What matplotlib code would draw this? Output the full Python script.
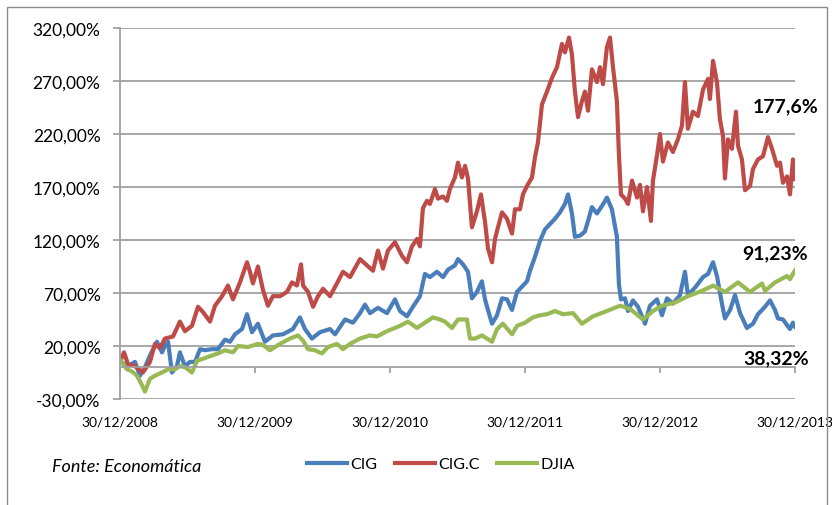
import matplotlib
matplotlib.use("Agg")
import matplotlib.pyplot as plt
from matplotlib.patches import Rectangle

plt.rcParams['font.family'] = ['Lato', 'DejaVu Sans']

# years since 30/12/2008
cigc_x = [0.007, 0.030, 0.059, 0.111, 0.170, 0.222, 0.259, 0.296, 0.333, 0.393, 0.444, 0.481, 0.533, 0.578,
          0.615, 0.667, 0.704, 0.756, 0.800, 0.837, 0.889, 0.941, 0.963, 0.985, 1.022, 1.059, 1.096, 1.133,
          1.185, 1.237, 1.274, 1.311, 1.341, 1.356, 1.393, 1.430, 1.467, 1.504, 1.556, 1.607, 1.652, 1.704,
          1.778, 1.830, 1.874, 1.911, 1.948, 1.985, 2.037, 2.089, 2.126, 2.163, 2.200, 2.222, 2.244, 2.274,
          2.296, 2.333, 2.356, 2.393, 2.422, 2.444, 2.481, 2.504, 2.533, 2.556, 2.578, 2.607, 2.644, 2.674,
          2.704, 2.726, 2.756, 2.778, 2.800, 2.830, 2.867, 2.904, 2.926, 2.963, 2.985, 3.015, 3.052, 3.074,
          3.096, 3.126, 3.163, 3.200, 3.237, 3.274, 3.296, 3.326, 3.348, 3.370, 3.393, 3.422, 3.444, 3.467,
          3.496, 3.533, 3.556, 3.578, 3.607, 3.630, 3.652, 3.681, 3.696, 3.711, 3.741, 3.763, 3.793, 3.830,
          3.852, 3.874, 3.904, 3.933, 3.948, 3.978, 4.000, 4.022, 4.059, 4.096, 4.133, 4.163, 4.185, 4.207,
          4.244, 4.281, 4.319, 4.356, 4.370, 4.393, 4.422, 4.444, 4.467, 4.481, 4.504, 4.533, 4.563, 4.578,
          4.607, 4.630, 4.667, 4.689, 4.726, 4.763, 4.800, 4.830, 4.867, 4.889, 4.911, 4.941, 4.963, 4.985,
          5.000]
cigc_y = [7, 14, 3, 1, -5, 5, 22, 18, 27, 29, 43, 34, 39, 57,
          52, 43, 58, 67, 77, 64, 80, 99, 90, 79, 95, 73, 58, 67,
          67, 71, 80, 77, 97, 77, 71, 57, 67, 74, 67, 79, 90, 85,
          102, 96, 91, 110, 93, 110, 118, 105, 99, 114, 121, 114, 150, 157,
          154, 168, 159, 161, 157, 168, 179, 193, 179, 190, 178, 132, 147, 163,
          137, 112, 99, 121, 132, 146, 140, 126, 149, 149, 163, 171, 179, 198,
          212, 248, 260, 273, 283, 305, 297, 311, 295, 260, 236, 251, 260, 242,
          281, 269, 283, 267, 302, 311, 283, 251, 200, 163, 159, 154, 176, 160,
          172, 147, 170, 138, 176, 200, 220, 194, 212, 203, 215, 228, 269, 225,
          241, 237, 262, 272, 253, 289, 269, 234, 218, 178, 215, 206, 241, 209,
          196, 167, 171, 187, 196, 199, 217, 206, 190, 193, 174, 180, 163, 196,
          177.6]

cig_x = [0.007, 0.059, 0.111, 0.148, 0.185, 0.222, 0.274, 0.311, 0.333, 0.356, 0.385, 0.422, 0.444, 0.481,
         0.519, 0.556, 0.593, 0.630, 0.681, 0.726, 0.778, 0.815, 0.852, 0.904, 0.941, 0.978, 1.022, 1.074,
         1.133, 1.207, 1.281, 1.333, 1.370, 1.422, 1.481, 1.556, 1.593, 1.667, 1.726, 1.778, 1.815, 1.852,
         1.911, 1.978, 2.037, 2.074, 2.126, 2.170, 2.222, 2.259, 2.296, 2.348, 2.393, 2.430, 2.481, 2.504,
         2.541, 2.578, 2.607, 2.644, 2.681, 2.704, 2.726, 2.756, 2.793, 2.830, 2.867, 2.904, 2.941, 2.978,
         3.015, 3.037, 3.074, 3.111, 3.148, 3.185, 3.222, 3.259, 3.296, 3.319, 3.348, 3.370, 3.407, 3.444,
         3.467, 3.496, 3.533, 3.570, 3.607, 3.644, 3.681, 3.696, 3.711, 3.741, 3.763, 3.800, 3.837, 3.889,
         3.926, 3.978, 4.015, 4.052, 4.096, 4.148, 4.185, 4.207, 4.259, 4.319, 4.356, 4.393, 4.422, 4.459,
         4.481, 4.519, 4.556, 4.593, 4.644, 4.689, 4.726, 4.778, 4.815, 4.852, 4.874, 4.911, 4.963, 4.985,
         5.000]
cig_y = [5, 1, 5, -8, 0, 11, 24, 14, 20, 24, -5, 1, 14, 1,
         5, 5, 17, 16, 17, 17, 26, 24, 31, 36, 50, 33, 41, 24,
         30, 31, 36, 47, 36, 27, 33, 36, 31, 45, 42, 51, 59, 51,
         56, 51, 64, 53, 48, 57, 67, 88, 85, 90, 85, 92, 96, 102,
         97, 90, 65, 71, 81, 64, 54, 41, 49, 65, 64, 54, 71, 76,
         81, 91, 104, 119, 130, 135, 140, 146, 154, 163, 145, 123, 124, 128,
         138, 151, 145, 152, 160, 149, 123, 78, 64, 65, 53, 63, 57, 41,
         58, 64, 49, 65, 60, 68, 90, 68, 75, 85, 88, 99, 86, 60,
         46, 54, 68, 51, 37, 41, 50, 57, 63, 54, 46, 45, 36, 42,
         38.32]

djia_x = [0.007, 0.052, 0.089, 0.126, 0.163, 0.185, 0.222, 0.259, 0.311, 0.356, 0.407, 0.444, 0.481, 0.533,
          0.570, 0.615, 0.681, 0.726, 0.778, 0.837, 0.874, 0.948, 1.022, 1.059, 1.111, 1.185, 1.259, 1.319,
          1.356, 1.393, 1.444, 1.496, 1.541, 1.607, 1.652, 1.704, 1.778, 1.852, 1.904, 1.978, 2.037, 2.074,
          2.133, 2.200, 2.259, 2.319, 2.370, 2.407, 2.459, 2.504, 2.570, 2.593, 2.630, 2.681, 2.719, 2.756,
          2.793, 2.837, 2.904, 2.941, 3.000, 3.059, 3.111, 3.163, 3.222, 3.281, 3.356, 3.422, 3.504, 3.607,
          3.704, 3.778, 3.874, 3.948, 4.015, 4.111, 4.207, 4.311, 4.393, 4.481, 4.578, 4.667, 4.756, 4.778,
          4.852, 4.941, 4.963, 5.000]
djia_y = [6, -2, -4, -8, -17, -23, -11, -8, -5, -2, -2, 1, 0, -5,
          6, 8, 11, 13, 16, 14, 20, 19, 22, 21, 16, 22, 27, 30,
          25, 17, 16, 13, 19, 22, 17, 22, 27, 30, 29, 34, 37, 39,
          43, 37, 42, 47, 45, 43, 37, 45, 45, 27, 27, 30, 27, 24,
          36, 41, 31, 39, 42, 47, 49, 50, 53, 50, 51, 41, 48, 53,
          58, 55, 45, 53, 58, 61, 67, 72, 77, 71, 80, 71, 79, 72,
          80, 86, 83, 91.23]

year_ticks = [0, 1, 2, 3, 4, 5]
year_labels = ['30/12/2008', '30/12/2009', '30/12/2010', '30/12/2011', '30/12/2012', '30/12/2013']
pct_ticks = [-30, 20, 70, 120, 170, 220, 270, 320]
pct_labels = ['-30,00%', '20,00%', '70,00%', '120,00%', '170,00%', '220,00%', '270,00%', '320,00%']

fig = plt.figure(figsize=(8.32, 5.06), dpi=100)
fig.patches.append(Rectangle((6.5 / 832, -0.1), 820 / 832, 1.1 - 8 / 506, transform=fig.transFigure,
                             fill=False, edgecolor='#8c8c8c', linewidth=1.0))
ax = fig.add_axes([0.1442, 0.2095, 0.8113, 0.7332])

ax.plot(cig_x, cig_y, color='#4a7ebb', lw=3.0, label='CIG', solid_joinstyle='round')
ax.plot(cigc_x, cigc_y, color='#be4b48', lw=3.0, label='CIG.C', solid_joinstyle='round')
ax.plot(djia_x, djia_y, color='#98b954', lw=3.0, label='DJIA', solid_joinstyle='round')

ax.set_xlim(0, 5)
ax.set_ylim(-30, 320)
ax.set_yticks(pct_ticks)
ax.set_yticklabels(pct_labels, fontsize=12.5)
ax.set_xticks(year_ticks)
ax.set_xticklabels(year_labels, fontsize=10.5)
ax.grid(axis='y', color='#a0a0a0', lw=1.3)
ax.set_axisbelow(True)
for s in ['top', 'right']:
    ax.spines[s].set_visible(False)
ax.spines['left'].set_color('#a0a0a0')
ax.spines['left'].set_linewidth(1.3)
ax.spines['bottom'].set_position(('data', 0))
ax.spines['bottom'].set_color('#a0a0a0')
ax.spines['bottom'].set_linewidth(1.3)
ax.tick_params(axis='y', length=5, width=1.3, color='#a0a0a0', pad=9)
ax.tick_params(axis='x', length=4, width=1.3, color='#a0a0a0', pad=31)

bold = dict(fontsize=14, fontweight='bold', va='center', ha='left', annotation_clip=False,
            textcoords='offset pixels')
ax.annotate('177,6%', xy=(cigc_x[-1], cigc_y[-1]), xytext=(-42, 73), **bold)
ax.annotate('91,23%', xy=(djia_x[-1], djia_y[-1]), xytext=(-53, 18), **bold)
ax.annotate('38,32%', xy=(cig_x[-1], cig_y[-1]), xytext=(-52, -31), **bold)

fig.legend(loc='center', bbox_to_anchor=(0.53, 0.081), ncol=3, frameon=False, fontsize=11.5,
           handlelength=2.5, handletextpad=0.2, columnspacing=1.1)
fig.text(52 / 832, 0.077, 'Fonte: Economática', style='italic', fontsize=13, va='center', ha='left')

fig.savefig('out.png', dpi=100)
